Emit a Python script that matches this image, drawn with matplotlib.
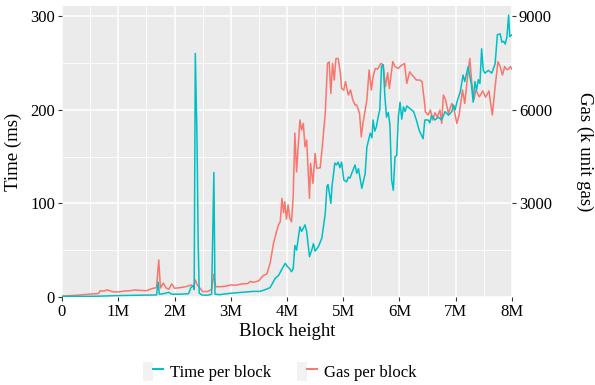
import matplotlib
matplotlib.use('Agg')
import matplotlib.pyplot as plt
from matplotlib.lines import Line2D
from matplotlib.patches import Patch
from matplotlib.legend_handler import HandlerTuple

# block height (millions) and time per block (ms)
time_x = [0.0, 0.3, 0.6, 0.7, 1.0, 1.3, 1.5, 1.68, 1.71, 1.73, 1.8, 1.9, 1.95, 2.1, 2.25,
          2.29, 2.33, 2.35, 2.37, 2.40, 2.42, 2.44, 2.5, 2.6, 2.66, 2.70, 2.72, 2.8, 3.0, 3.2,
          3.4, 3.52, 3.62, 3.70, 3.79, 3.85, 3.93, 3.97, 4.0, 4.05, 4.08, 4.11, 4.14, 4.17,
          4.23, 4.26, 4.32, 4.35, 4.40, 4.44, 4.47, 4.50, 4.56, 4.62, 4.68, 4.71, 4.73, 4.76,
          4.78, 4.80, 4.82, 4.85, 4.88, 4.91, 4.94, 4.97, 5.01, 5.06, 5.09, 5.12, 5.15, 5.21,
          5.24, 5.27, 5.33, 5.39, 5.42, 5.48, 5.51, 5.53, 5.56, 5.59, 5.62, 5.65, 5.68, 5.71,
          5.74, 5.77, 5.80, 5.83, 5.86, 5.89, 5.92, 5.95, 5.98, 6.01, 6.04, 6.07, 6.10, 6.13,
          6.19, 6.25, 6.30, 6.35, 6.39, 6.42, 6.45, 6.51, 6.54, 6.57, 6.63, 6.69, 6.75, 6.81,
          6.87, 6.93, 6.96, 6.99, 7.02, 7.08, 7.13, 7.16, 7.22, 7.28, 7.31, 7.34, 7.37, 7.40,
          7.43, 7.46, 7.49, 7.52, 7.58, 7.64, 7.70, 7.74, 7.79, 7.82, 7.85, 7.88, 7.91, 7.94,
          7.96, 8.0]
time_ms = [0.5, 0.6, 0.8, 1.0, 1.5, 1.8, 2.0, 2.2, 16, 3, 3.5, 5, 3, 3, 3.5,
           10, 12, 8, 260, 170, 60, 4, 2, 2, 3, 133, 3, 2.5, 4, 5,
           6, 6, 8, 10, 20, 23, 32, 36, 33, 30, 27, 30, 55, 50,
           75, 70, 77, 70, 43, 50, 57, 49, 54, 63, 89, 118, 120, 108,
           100, 118, 128, 143, 141, 144, 138, 144, 125, 123, 128, 127, 132, 141,
           132, 137, 116, 132, 160, 175, 170, 189, 177, 182, 192, 200, 246, 248,
           214, 192, 197, 184, 125, 114, 150, 151, 192, 208, 190, 203, 198, 204,
           201, 198, 189, 178, 173, 169, 189, 189, 186, 194, 189, 192, 189, 198,
           194, 198, 205, 200, 208, 219, 237, 230, 246, 226, 208, 230, 221, 232,
           228, 265, 242, 239, 242, 239, 249, 280, 281, 272, 273, 270, 278, 301,
           278, 280]

# block height (millions) and gas per block (k unit gas)
gas_x = [0.0, 0.3, 0.5, 0.65, 0.68, 0.75, 0.8, 0.9, 1.0, 1.1, 1.2, 1.3, 1.4, 1.5, 1.6,
         1.68, 1.72, 1.75, 1.8, 1.85, 1.9, 1.95, 2.0, 2.1, 2.2, 2.3, 2.34, 2.37, 2.40, 2.45,
         2.5, 2.6, 2.66, 2.70, 2.73, 2.8, 2.9, 3.0, 3.1, 3.2, 3.3, 3.35, 3.4, 3.5, 3.58,
         3.64, 3.70, 3.76, 3.82, 3.85, 3.88, 3.91, 3.94, 3.96, 3.99, 4.02, 4.05, 4.08, 4.11,
         4.14, 4.17, 4.23, 4.26, 4.29, 4.32, 4.35, 4.40, 4.42, 4.46, 4.50, 4.53, 4.59, 4.63,
         4.68, 4.72, 4.75, 4.78, 4.81, 4.84, 4.87, 4.91, 4.95, 4.97, 5.01, 5.04, 5.09, 5.13,
         5.17, 5.21, 5.24, 5.29, 5.32, 5.35, 5.39, 5.42, 5.46, 5.50, 5.53, 5.57, 5.61, 5.67,
         5.71, 5.75, 5.79, 5.82, 5.88, 5.92, 5.98, 6.02, 6.09, 6.13, 6.18, 6.24, 6.30, 6.36,
         6.40, 6.44, 6.46, 6.51, 6.55, 6.59, 6.63, 6.67, 6.72, 6.75, 6.78, 6.82, 6.87, 6.93,
         6.97, 7.02, 7.06, 7.12, 7.16, 7.21, 7.25, 7.28, 7.32, 7.36, 7.42, 7.48, 7.53, 7.59,
         7.65, 7.70, 7.75, 7.79, 7.83, 7.87, 7.91, 7.94, 7.97, 8.0]
gas_k = [30, 60, 95, 110, 200, 190, 230, 170, 160, 190, 200, 225, 210, 200, 270,
         300, 1185, 290, 450, 290, 250, 420, 280, 300, 330, 385, 330, 545, 400, 290,
         170, 180, 250, 737, 330, 330, 340, 385, 380, 420, 430, 500, 470, 520, 690,
         735, 1080, 1720, 2140, 2310, 2410, 3160, 2700, 3050, 2500, 2950, 2520, 2410, 3210,
         5250, 4010, 5670, 5350, 5560, 4810, 5030, 3160, 4280, 3640, 4600, 4120, 4140, 4870,
         5880, 7480, 7530, 6520, 7480, 6950, 7640, 7640, 7160, 6680, 6630, 6900, 6470, 6630,
         6310, 6150, 6150, 5880, 5130, 5560, 5990, 6310, 7270, 6630, 7060, 7320, 7300, 7480,
         7440, 6740, 7180, 6680, 7540, 7380, 7320, 7400, 7480, 6840, 7210, 7080, 6950, 6950,
         6900, 6310, 5930, 5830, 5990, 5670, 5900, 5770, 5990, 5560, 6470, 6310, 5880, 6200,
         6000, 5560, 5830, 6630, 6200, 7060, 7640, 6960, 6310, 6630, 6410, 6600, 6400, 6600,
         5830, 6730, 7540, 7380, 7110, 7380, 7280, 7300, 7380, 7300]

x_ticks = [0, 1, 2, 3, 4, 5, 6, 7, 8]
x_labels = ['0', '1M', '2M', '3M', '4M', '5M', '6M', '7M', '8M']
left_ticks = [0, 100, 200, 300]
right_ticks = [3000, 6000, 9000]
gas_per_ms = 30  # secondary axis scale

TEAL = '#00BFC4'
SALMON = '#F8766D'

plt.rcParams['font.family'] = ['Liberation Serif', 'DejaVu Serif']

fig = plt.figure(figsize=(5.95, 3.85), dpi=100)
ax = fig.add_axes([62 / 595, 1 - 297 / 385, 450 / 595, 291 / 385])
ax.set_facecolor('#EBEBEB')
for s in ax.spines.values():
    s.set_visible(False)

ax.set_xlim(0, 8)
ax.set_ylim(0, 310.7)
ax.set_xticks(x_ticks)
ax.set_xticklabels(x_labels)
ax.set_xticks([0.5 + i for i in range(8)], minor=True)
ax.set_yticks(left_ticks)
ax.set_yticks([50, 150, 250], minor=True)
ax.grid(True, which='major', color='white', lw=1.1)
ax.grid(True, which='minor', color='white', lw=0.6)
ax.set_axisbelow(True)
ax.tick_params(which='major', length=3, width=0.8, color='#333333',
               labelsize=12, labelcolor='black', pad=2)
ax.tick_params(which='minor', length=0)

# gas drawn in the time-axis units of the secondary axis
ax.plot(gas_x, [g / gas_per_ms for g in gas_k], color=SALMON, lw=1.1)
ax.plot(time_x, time_ms, color=TEAL, lw=1.1)

sec = ax.secondary_yaxis('right', functions=(lambda t: t * gas_per_ms,
                                             lambda g: g / gas_per_ms))
sec.set_yticks(right_ticks)
sec.spines['right'].set_visible(False)
sec.tick_params(length=3, width=0.8, color='#333333', labelsize=12,
                labelcolor='black', pad=2)
sec.set_ylabel('Gas (k unit gas)', fontsize=13.5, rotation=-90, labelpad=30)

ax.set_xlabel('Block height', fontsize=13.5, labelpad=2)
ax.set_ylabel('Time (ms)', fontsize=13.5, labelpad=6)

key_bg = '#F2F2F2'
handles = [(Patch(facecolor=key_bg, edgecolor='none'), Line2D([], [], color=TEAL, lw=1.4)),
           (Patch(facecolor=key_bg, edgecolor='none'), Line2D([], [], color=SALMON, lw=1.4))]
fig.legend(handles, ['Time per block', 'Gas per block'],
           handler_map={tuple: HandlerTuple(ndivide=None, pad=0)},
           loc='center', bbox_to_anchor=(0.47, 0.035), ncol=2, frameon=False,
           fontsize=12, handlelength=1.2, handleheight=1.4, handletextpad=0.4,
           columnspacing=1.6)

fig.savefig('out.png', dpi=100)
